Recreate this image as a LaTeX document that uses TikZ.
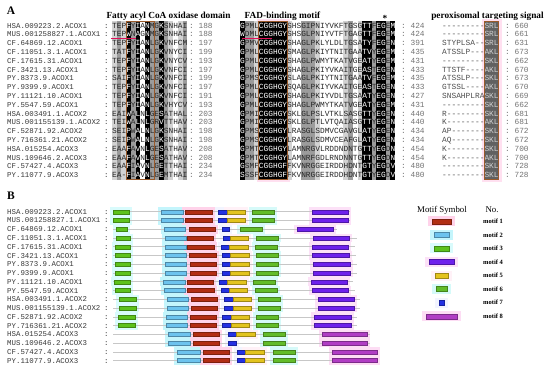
\documentclass[tikz,border=0pt]{standalone}
\usepackage{fontspec}
\setmainfont{Liberation Serif}
\setmonofont{Liberation Mono}
\definecolor{m1}{HTML}{B22D14}\definecolor{h1}{HTML}{FFD3EA}
\definecolor{m2}{HTML}{6CC3EE}\definecolor{h2}{HTML}{C4F5FC}
\definecolor{m3}{HTML}{5CC21C}\definecolor{h3}{HTML}{D9FBFC}
\definecolor{m4}{HTML}{6E21EC}\definecolor{h4}{HTML}{FCE1F7}
\definecolor{m5}{HTML}{E3C31E}\definecolor{h5}{HTML}{FFF1F7}
\definecolor{m6}{HTML}{62BC2A}\definecolor{h6}{HTML}{D6FAF9}
\definecolor{m7}{HTML}{2331E3}\definecolor{h7}{HTML}{F2F4FF}
\definecolor{m8}{HTML}{B13DC4}\definecolor{h8}{HTML}{FDDDF4}
\definecolor{boxc}{HTML}{9A5A2A}
\definecolor{shg}{HTML}{9C9C9C}
\definecolor{shl}{HTML}{D2D2D2}
\definecolor{ul}{HTML}{E0105A}
% colour letters by column: pattern k = white letter (black column)
\def\pseq#1#2{\pseqA#1\relax#2\relax}
\def\pseqA#1#2\relax#3#4\relax{\ifx k#1\textcolor{white}{#3}\else#3\fi
  \ifx\relax#2\relax\else\pseqA#2\relax#4\relax\fi}
\def\patA{nnnknknknnknnnnn}
\def\patB{knnnkkkkkknnnnnnnnnnnnnnnnkknkknk}
\def\rowsA{1/HSA.009223.2.ACOX1/TEPFYIANMGKSNHAI/188/GPMLCGGHGYSHSGIPNIYVKFTGSGTTFEGEM/424/---------/SRL/660,
2/MUS.001258827.1.ACOX1/TEPWNAGNMGKSNHAI/188/WDMLCGGHGYSHSGLPNIYVTFTGAGTTFEGEM/424/---------/SRL/661,
3/CF.64869.12.ACOX1/TEPFYIANLGKVNFCM/197/GPMVCGGHGYSHAGLPKLYLDLTGSATYFEGEN/391/STYPLSA--/SRL/631,
4/CF.11051.3.1.ACOX1/TATFYIANLGKVNYCI/199/GPMLCGGHGYSMAGLPKIYTNITGAATVYEGEM/435/ATSSLP---/AKL/673,
5/CF.17615.31.ACOX1/TEPFYIANLGKVNYCV/193/GPMLCGGHGYSHAGLPWMYTKATVGEATYEGEM/431/---------/SKL/662,
6/CF.3421.13.ACOX1/TEPFYIANLGKVNFCI/197/GPMLCGGHGYSHAGLPKIYVKAITGEASTEGEN/433/TTSTF----/AKL/670,
7/PY.8373.9.ACOX1/SAIFYIANLGKVNFCI/199/GPMSCGGHGYSLAGLPKIYTNITGAATVFEGEM/435/ATSSLP---/SKL/673,
8/PY.9399.9.ACOX1/TEPFYIANLGKVNFCI/197/GPMLCGGHGYSQAGLPKIYVKAITGEASTEGEN/433/GTSSL----/AKL/670,
9/PY.11121.10.ACOX1/TEPFYIANLGKVNFCI/191/GPMLCGGHGYSHAGLPKIYVDLTGSAATYEGEN/427/SNSAHPLRA/SKL/669,
10/PY.5547.59.ACOX1/TEPFYIANLGKVHYCV/193/GPMLCGGHGYSHAGLPWMYTKATVGEATYEGEM/431/---------/SKL/662,
11/HSA.003491.1.ACOX2/EAIWALNLGESATHAL/203/GPMICGGHGYSKLGLPSLVTKLSASGTTYEGEN/440/R--------/SKL/681,
12/MUS.001155139.1.ACOX2/TEIWALNLGRVTTHAV/203/GPMICGGHGYSKLGLPTLVTQAIASGTTYEGEN/440/K--------/AKL/681,
13/CF.52871.92.ACOX2/SEIPWALNLGKSNHAI/198/GPMSCGGHGYLRASGLSDMVCGAVGLATYEGEN/434/AP-------/SKL/672,
14/PY.716361.21.ACOX2/SEIPWALNLGKSNHAI/198/GPMSCGGHGYLRASGLSDMVCEAFGLATYEGEN/434/AQ-------/SKL/672,
15/HSA.015254.ACOX3/EAAFAVNLGESATHAV/208/GPMTCGGHGYLAMNRGVLRDDNDNTGTTYEGDN/454/K--------/SKL/700,
16/MUS.109646.2.ACOX3/EAAFAVNLGESATHAV/208/GPMTCGGHGYLAMNRFGDLRNDNNTGTTYEGDN/454/K--------/AKL/700,
17/CF.57427.4.ACOX3/EAAFIAVNLGETTHAI/234/GSMFCGGHGFFKVNRGGEIRDDHDNTGTYEGDV/480/---------/SKL/728,
18/PY.11077.9.ACOX3/EA-FIAVNLGEMTHAI/234/SSSFCGGHGFFKVNRGGEIRDDHDNTGTYEGDV/480/---------/SKL/728}
\def\rowsB{1/HSA.009223.2.ACOX1/350/{3/113/129,2/161/183,1/185/212,7/218/227,5/227/245,6/252/274,4/312/348},
2/MUS.001258827.1.ACOX1/350/{3/113/129,2/161/183,1/185/212,7/218/227,5/227/245,6/252/274,4/312/348},
3/CF.64869.12.ACOX1/337/{3/116/127,2/164/185,1/189/215,7/222/229,6/240/262,4/297/333},
4/CF.11051.3.1.ACOX1/357/{3/116/130,2/165/186,1/187/213,7/223/230,5/230/248,6/256/278,4/313/349},
5/CF.17615.31.ACOX1/355/{3/115/130,2/165/186,1/187/214,7/221/229,5/229/248,6/255/277,4/312/348},
6/CF.3421.13.ACOX1/356/{3/115/130,2/165/186,1/189/216,7/222/230,5/230/249,6/256/278,4/312/349},
7/PY.8373.9.ACOX1/357/{3/115/130,2/165/186,1/190/216,7/222/230,5/230/249,6/256/278,4/313/350},
8/PY.9399.9.ACOX1/357/{3/115/130,2/165/186,1/190/216,7/222/230,5/230/249,6/256/278,4/313/350},
9/PY.11121.10.ACOX1/353/{3/114/130,2/163/185,1/187/213,7/219/227,5/227/246,6/253/275,4/311/347},
10/PY.5547.59.ACOX1/355/{3/115/130,2/164/185,1/187/214,7/221/229,5/229/247,6/255/277,4/312/348},
11/HSA.003491.1.ACOX2/360/{3/119/136,2/167/188,1/191/217,7/224/233,5/233/251,6/258/280,4/318/354},
12/MUS.001155139.1.ACOX2/360/{3/119/136,2/167/188,1/191/217,7/224/233,5/233/251,6/258/280,4/318/354},
13/CF.52871.92.ACOX2/357/{3/118/135,2/166/187,1/190/216,7/222/231,5/231/249,6/256/278,4/314/351},
14/PY.716361.21.ACOX2/357/{3/118/135,2/166/187,1/190/216,7/222/231,5/231/249,6/256/278,4/314/351},
15/HSA.015254.ACOX3/370/{2/168/190,1/193/219,7/228/236,5/236/255,6/263/285,8/322/367},
16/MUS.109646.2.ACOX3/370/{2/168/190,1/193/219,7/228/236,6/263/285,8/322/367},
17/CF.57427.4.ACOX3/378/{2/177/200,1/203/229,7/237/245,5/245/264,6/273/295,8/332/377},
18/PY.11077.9.ACOX3/378/{2/177/200,1/203/229,7/237/245,5/245/264,6/273/295,8/332/377}}
\begin{document}
\begin{tikzpicture}[x=1pt,y=-1pt,
  lbl/.style={font=\ttfamily\fontsize{7.4}{8}\selectfont,text=black!78,inner sep=0,anchor=west,text height=5pt,text depth=0pt},
  seq/.style={font=\ttfamily\fontsize{7.83}{8}\selectfont,inner sep=0,anchor=west,text height=5pt,text depth=0pt},
  num/.style={seq,text=black!55},
  ttl/.style={font=\bfseries\fontsize{9.3}{10}\selectfont,inner sep=0,anchor=base},
  panel/.style={font=\bfseries\fontsize{11.5}{12}\selectfont,inner sep=0},
  hdr/.style={font=\fontsize{8.8}{10}\selectfont,inner sep=0,anchor=base},
  mlab/.style={font=\bfseries\fontsize{6.5}{8}\selectfont,inner sep=0,anchor=west},
  track/.style={draw=black!22,line width=0.6pt},
  motifbox/.style={draw=boxc,line width=0.8pt}]
\useasboundingbox (0,0) rectangle (550,370);
% ---------- Panel A ----------
\node[panel] (pA) at (11,11) {A};
\node[ttl] (t1) at (168.5,18.5) {Fatty acyl CoA oxidase domain};
\node[ttl] (t2) at (282.5,18.5) {FAD-binding motif};
\node[ttl] (t3) at (385,21) {*};
\node[ttl] (t4) at (487.5,18.5) {peroxisomal targeting signal};
% halos
\fill[h1!70] (256.5,18.5) rectangle (289.5,182);
\fill[h1!70] (481.5,18.5) rectangle (501.5,182);
% column shading block 1
\foreach \c/\s in {0/shl,1/shg,2/shl,3/black,4/shg,5/black,7/black,8/shg,9/shg,10/black,11/shg,12/shl,14/shl,15/shg}
  \fill[\s] ({112+4.7*\c},21.1) rectangle ++(4.7,158.4);
% column shading block 2
\foreach \c/\s in {0/black,1/shg,2/shg,3/shl,10/shl,13/shg,14/shg,15/shg,16/shl,22/shl,23/shg,25/shl,26/black,27/black,28/shg,29/black,30/black,31/shg,32/black}
  \fill[\s] ({240+4.7*\c},21.1) rectangle ++(4.7,158.4);
\fill[black] (258.8,21.1) rectangle (287,179.5);
\fill[black!62] (484.3,21.1) rectangle (498.4,179.5);
% text rows
\foreach \i/\lab/\sa/\na/\sb/\nb/\pp/\pt/\nc in \rowsA {
  \pgfmathsetmacro\yy{25.5+8.8*(\i-1)}
  \node[lbl] (la\i) at (7,\yy) {\lab};
  \node[lbl] (ca\i) at (104,\yy) {:};
  \node[seq,text=black!85] (sa\i) at (112,\yy) {\expandafter\expandafter\expandafter\pseq\expandafter\expandafter\expandafter{\expandafter\patA\expandafter}\expandafter{\sa}};
  \node[num] (na\i) at (189,\yy) {:\ \na};
  \node[seq,text=black!85] (sb\i) at (240,\yy) {\expandafter\expandafter\expandafter\pseq\expandafter\expandafter\expandafter{\expandafter\patB\expandafter}\expandafter{\sb}};
  \node[num] (nb\i) at (401,\yy) {:\ \nb};
  \node[seq,text=black!70] (pp\i) at (442,\yy) {\pp};
  \node[seq,text=black!18] (pt\i) at (484.3,\yy) {\pt};
  \node[num] (nc\i) at (505,\yy) {:\ \nc};
}
% motif boxes
\draw[motifbox] (126.1,21.1) rectangle (154.3,179.5);
\draw[motifbox] (258.8,21.1) rectangle (287,179.5);
\draw[motifbox] (484.3,21.1) rectangle (498.4,179.5);
% underlines of row 2
\draw[ul,line width=0.8pt] (111,38.6) -- (136,38.6);
\draw[ul,line width=0.8pt] (242,38.6) -- (272,38.6);
% ---------- Panel B ----------
\node[panel] (pB) at (11,196) {B};
\foreach \i/\lab/\e/\lst in \rowsB {
  \pgfmathsetmacro\yy{211.7+8.76*(\i-1)}
  \foreach \m/\a/\b in \lst { \fill[h\m] (\a-3,\yy-4.38) rectangle (\b+3,\yy+4.38); }
}
\foreach \i/\lab/\e/\lst in \rowsB {
  \pgfmathsetmacro\yy{211.7+8.76*(\i-1)}
  \node[lbl] (lb\i) at (7,\yy) {\lab};
  \node[lbl] (cb\i) at (104,\yy) {:};
  \coordinate (s\i) at (113,\yy);
  \coordinate (e\i) at (\e,\yy);
  \draw[track] (s\i) -- (e\i);
  \foreach \m/\a/\b in \lst { \fill[m\m,draw=m\m!70!black,line width=0.35pt] (\a,\yy-2) rectangle (\b,\yy+2); }
}
% legend
\node[hdr] (lh1) at (442,212) {Motif Symbol};
\node[hdr] (lh2) at (492,212) {No.};
\foreach \k/\a/\b in {1/432/451,2/434/449,3/434/449,4/429/454,5/435/448,6/436/447,7/439/444,8/426/457} {
  \pgfmathsetmacro\yy{221.3+13.56*(\k-1)}
  \fill[h\k] (\a-4,\yy-5) rectangle (\b+4,\yy+5);
  \fill[m\k,draw=m\k!70!black,line width=0.35pt] (\a,\yy-2.5) rectangle (\b,\yy+2.5);
  \node[mlab] (ml\k) at (483,\yy) {motif \k};
}
\end{tikzpicture}
\end{document}
